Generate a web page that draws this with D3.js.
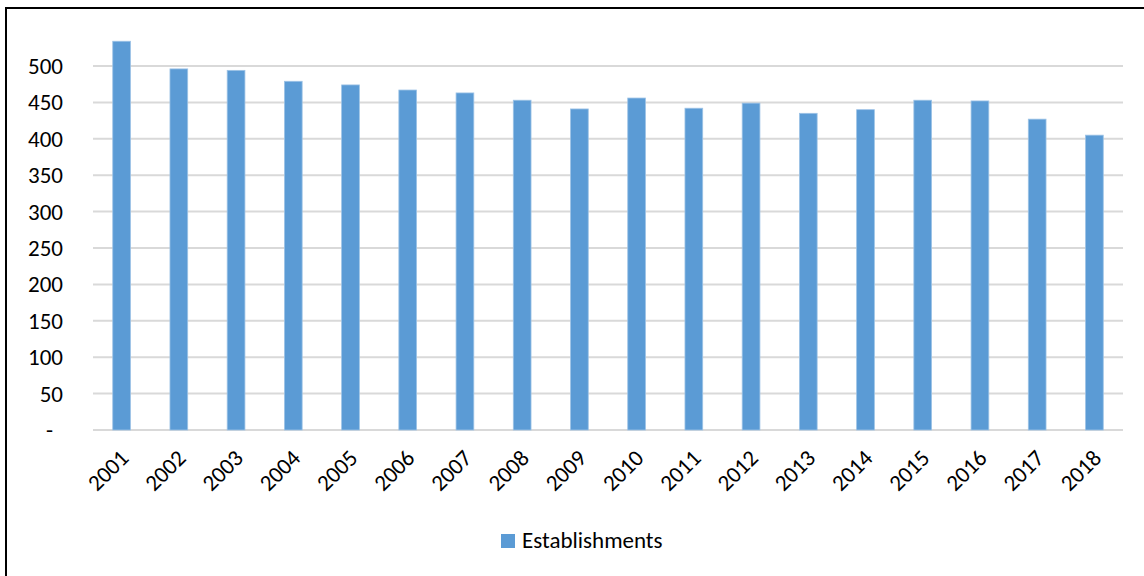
<!DOCTYPE html>
<html>
<head>
<meta charset="utf-8">
<script src="https://cdn.jsdelivr.net/npm/d3@7"></script>
<style>
  body { margin: 0; background: #fff; }
  svg { display: block; }
</style>
</head>
<body>
<svg id="chart" width="1144" height="576"></svg>
<script>
// data
const years = ["2001","2002","2003","2004","2005","2006","2007","2008","2009",
  "2010","2011","2012","2013","2014","2015","2016","2017","2018"];
const establishments = [534, 496, 494, 479, 474, 467, 463, 453, 441,
  456, 442, 449, 435, 440, 453, 452, 427, 405];
const yTicks = [0, 50, 100, 150, 200, 250, 300, 350, 400, 450, 500];
const seriesName = "Establishments";

const fontFamily = "Carlito, 'Open Sans', 'Liberation Sans', sans-serif";
const barColor = "#5b9bd5";

const svg = d3.select("#chart");

// frame (only left + top edges show in the crop)
svg.append("line").attr("x1", 6).attr("x2", 6).attr("y1", 8).attr("y2", 576)
  .attr("stroke", "#000").attr("stroke-width", 2);
svg.append("line").attr("x1", 5).attr("x2", 1144).attr("y1", 8).attr("y2", 8)
  .attr("stroke", "#000").attr("stroke-width", 2);

const plotLeft = 93, plotRight = 1123, plotTop = 66, plotBottom = 430;

const x = d3.scaleBand().domain(years).range([plotLeft, plotRight]).paddingInner(0.69).paddingOuter(0.345);
const y = d3.scaleLinear().domain([0, 500]).range([plotBottom, plotTop]);

// gridlines
svg.append("g")
  .selectAll("line")
  .data(yTicks)
  .join("line")
  .attr("x1", plotLeft).attr("x2", plotRight)
  .attr("y1", d => y(d)).attr("y2", d => y(d))
  .attr("stroke", "#d9d9d9")
  .attr("stroke-width", 2);

// y labels
svg.append("g")
  .style("font-family", fontFamily)
  .style("font-size", "23px")
  .attr("fill", "#000")
  .selectAll("text")
  .data(yTicks)
  .join("text")
  .attr("x", d => d === 0 ? 53 : 63)
  .attr("y", d => y(d))
  .attr("dy", "0.35em")
  .attr("text-anchor", "end")
  .text(d => d === 0 ? "-" : d);

// bars
svg.append("g")
  .selectAll("rect")
  .data(establishments)
  .join("rect")
  .attr("x", (d, i) => x(years[i]))
  .attr("y", d => y(d))
  .attr("width", x.bandwidth())
  .attr("height", d => y(0) - y(d))
  .attr("fill", barColor)
  .attr("stroke", "#9dc3e6")
  .attr("stroke-width", 0.8);

// x labels, rotated
svg.append("g")
  .style("font-family", fontFamily)
  .style("font-size", "23px")
  .attr("fill", "#000")
  .selectAll("text")
  .data(years)
  .join("text")
  .attr("text-anchor", "end")
  .attr("transform", d => `translate(${x(d) + x.bandwidth() / 2 - 3},${plotBottom + 18}) rotate(-45)`)
  .attr("dy", "0.7em")
  .text(d => d);

// legend
const legend = svg.append("g").attr("transform", "translate(501,534)");
legend.append("rect").attr("width", 14).attr("height", 14).attr("fill", barColor);
legend.append("text")
  .attr("x", 21).attr("y", 14)
  .style("font-family", fontFamily)
  .style("font-size", "23px")
  .attr("fill", "#000")
  .text(seriesName);
</script>
</body>
</html>
